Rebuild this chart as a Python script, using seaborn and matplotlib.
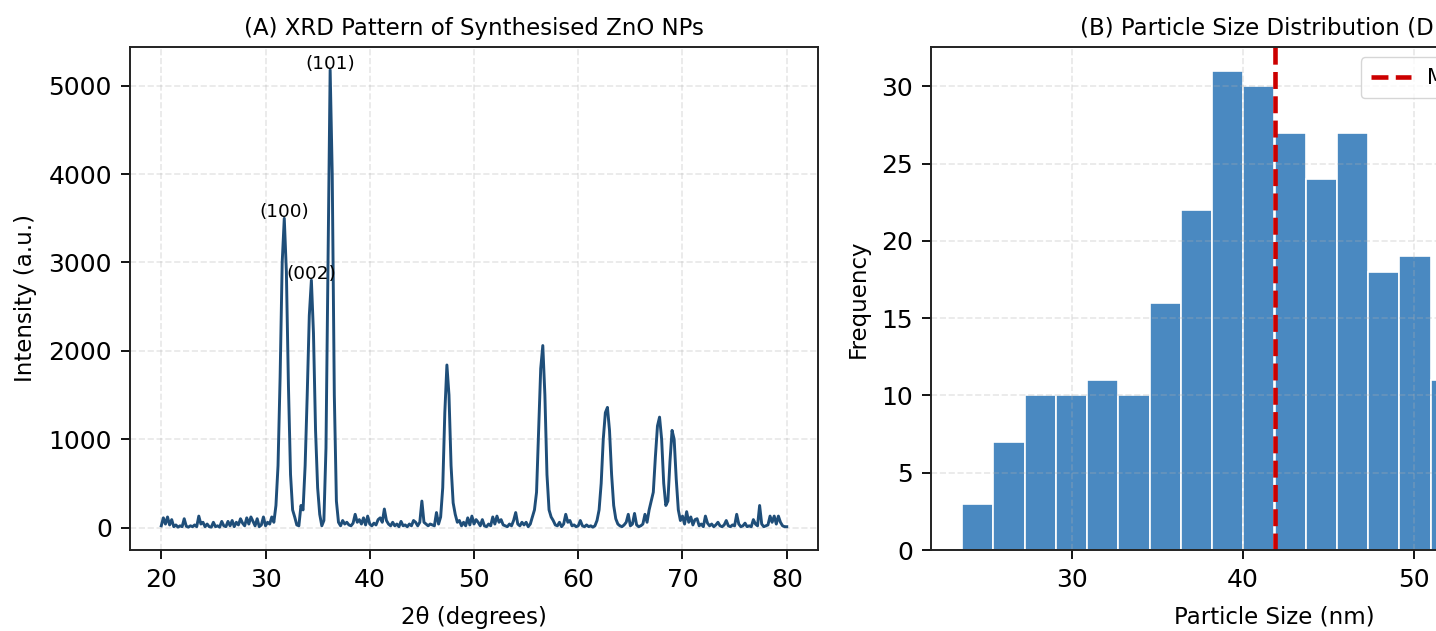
import numpy as np
import pandas as pd
import matplotlib
matplotlib.use('Agg')
import matplotlib.pyplot as plt
from matplotlib.ticker import MultipleLocator
import seaborn as sns

# XRD pattern (2theta in degrees, intensity in a.u.)
two_theta = [
    20.0, 20.2, 20.4, 20.6, 20.8, 21.0, 21.2, 21.4, 21.6, 21.8,
    22.0, 22.2, 22.4, 22.6, 22.8, 23.0, 23.2, 23.4, 23.6, 23.8,
    24.0, 24.2, 24.4, 24.6, 24.8, 25.0, 25.2, 25.4, 25.6, 25.8,
    26.0, 26.2, 26.4, 26.6, 26.8, 27.0, 27.2, 27.4, 27.6, 27.8,
    28.0, 28.2, 28.4, 28.6, 28.8, 29.0, 29.2, 29.4, 29.6, 29.8,
    30.0, 30.2, 30.4, 30.6, 30.8, 31.0, 31.2, 31.4, 31.6, 31.8,
    32.0, 32.2, 32.4, 32.6, 32.8, 33.0, 33.2, 33.4, 33.6, 33.8,
    34.0, 34.2, 34.4, 34.6, 34.8, 35.0, 35.2, 35.4, 35.6, 35.8,
    36.0, 36.2, 36.4, 36.6, 36.8, 37.0, 37.2, 37.4, 37.6, 37.8,
    38.0, 38.2, 38.4, 38.6, 38.8, 39.0, 39.2, 39.4, 39.6, 39.8,
    40.0, 40.2, 40.4, 40.6, 40.8, 41.0, 41.2, 41.4, 41.6, 41.8,
    42.0, 42.2, 42.4, 42.6, 42.8, 43.0, 43.2, 43.4, 43.6, 43.8,
    44.0, 44.2, 44.4, 44.6, 44.8, 45.0, 45.2, 45.4, 45.6, 45.8,
    46.0, 46.2, 46.4, 46.6, 46.8, 47.0, 47.2, 47.4, 47.6, 47.8,
    48.0, 48.2, 48.4, 48.6, 48.8, 49.0, 49.2, 49.4, 49.6, 49.8,
    50.0, 50.2, 50.4, 50.6, 50.8, 51.0, 51.2, 51.4, 51.6, 51.8,
    52.0, 52.2, 52.4, 52.6, 52.8, 53.0, 53.2, 53.4, 53.6, 53.8,
    54.0, 54.2, 54.4, 54.6, 54.8, 55.0, 55.2, 55.4, 55.6, 55.8,
    56.0, 56.2, 56.4, 56.6, 56.8, 57.0, 57.2, 57.4, 57.6, 57.8,
    58.0, 58.2, 58.4, 58.6, 58.8, 59.0, 59.2, 59.4, 59.6, 59.8,
    60.0, 60.2, 60.4, 60.6, 60.8, 61.0, 61.2, 61.4, 61.6, 61.8,
    62.0, 62.2, 62.4, 62.6, 62.8, 63.0, 63.2, 63.4, 63.6, 63.8,
    64.0, 64.2, 64.4, 64.6, 64.8, 65.0, 65.2, 65.4, 65.6, 65.8,
    66.0, 66.2, 66.4, 66.6, 66.8, 67.0, 67.2, 67.4, 67.6, 67.8,
    68.0, 68.2, 68.4, 68.6, 68.8, 69.0, 69.2, 69.4, 69.6, 69.8,
    70.0, 70.2, 70.4, 70.6, 70.8, 71.0, 71.2, 71.4, 71.6, 71.8,
    72.0, 72.2, 72.4, 72.6, 72.8, 73.0, 73.2, 73.4, 73.6, 73.8,
    74.0, 74.2, 74.4, 74.6, 74.8, 75.0, 75.2, 75.4, 75.6, 75.8,
    76.0, 76.2, 76.4, 76.6, 76.8, 77.0, 77.2, 77.4, 77.6, 77.8,
    78.0, 78.2, 78.4, 78.6, 78.8, 79.0, 79.2, 79.4, 79.6, 79.8,
    80.0,
]
intensity = [
    20, 110, 40, 120, 30, 90, 10, 30, 5, 20,
    10, 100, 15, 5, 20, 10, 30, 10, 130, 40,
    60, 10, 40, 10, 5, 60, 10, 20, 5, 70,
    20, 10, 70, 20, 80, 10, 60, 30, 100, 50,
    20, 110, 40, 120, 70, 20, 100, 10, 30, 120,
    20, 60, 40, 120, 60, 250, 700, 1700, 3000, 3500,
    2900, 1600, 600, 200, 120, 30, 20, 250, 200, 700,
    1500, 2400, 2800, 2200, 1100, 450, 150, 20, 80, 900,
    3000, 5180, 4000, 1500, 300, 60, 20, 80, 40, 60,
    30, 20, 50, 150, 60, 90, 40, 110, 30, 130,
    40, 20, 50, 30, 90, 110, 60, 210, 80, 40,
    20, 60, 20, 40, 10, 70, 20, 30, 10, 40,
    20, 80, 60, 20, 60, 300, 60, 40, 20, 40,
    30, 20, 170, 40, 120, 450, 1300, 1840, 1500, 700,
    280, 150, 60, 80, 20, 60, 20, 110, 30, 130,
    40, 90, 60, 20, 90, 20, 10, 40, 20, 120,
    40, 130, 60, 90, 30, 20, 10, 40, 20, 80,
    170, 40, 20, 60, 30, 60, 10, 40, 120, 200,
    400, 1100, 1800, 2060, 1500, 600, 200, 120, 80, 30,
    20, 60, 10, 40, 150, 60, 80, 20, 30, 10,
    20, 80, 20, 10, 30, 10, 20, 5, 20, 80,
    200, 500, 1000, 1300, 1360, 1100, 600, 250, 100, 40,
    20, 10, 30, 60, 150, 20, 40, 160, 30, 10,
    20, 40, 150, 60, 200, 300, 400, 800, 1150, 1250,
    1000, 500, 250, 300, 750, 1100, 1000, 550, 200, 80,
    130, 40, 180, 60, 120, 30, 90, 100, 20, 40,
    10, 130, 50, 20, 40, 10, 30, 60, 20, 10,
    30, 80, 20, 10, 30, 20, 150, 40, 10, 20,
    50, 10, 20, 10, 90, 40, 20, 250, 40, 10,
    20, 30, 130, 60, 130, 40, 130, 60, 20, 10,
    10,
]

# labelled reflections
peak_labels = ['(100)', '(002)', '(101)']
peak_pos = [31.8, 34.4, 36.2]
peak_int = [3500, 2800, 5180]

# particle size histogram (counts per bin, 20 bins)
size_counts = [3, 7, 10, 10, 11, 10, 16, 22, 31, 30,
               27, 24, 27, 18, 19, 11, 10, 7, 4, 3]
size_min, size_max = 23.6, 60.1

edges = np.linspace(size_min, size_max, len(size_counts) + 1)
centers = (edges[:-1] + edges[1:]) / 2
mean_size = np.average(centers, weights=size_counts)

xrd = pd.DataFrame({'two_theta': two_theta, 'intensity': intensity})
sizes = pd.DataFrame({'size': centers, 'count': size_counts})

W, H = 1436, 631
fig = plt.figure(figsize=(W / 100, H / 100), dpi=100)
# the right panel runs past the right edge, as in the reference crop
ax1 = fig.add_axes([130 / W, 81 / H, 688 / W, 503 / H])
ax2 = fig.add_axes([931 / W, 81 / H, 687 / W, 503 / H])

# (A) XRD
sns.lineplot(data=xrd, x='two_theta', y='intensity', ax=ax1,
             color='#1f4e79', linewidth=2.1)
for lab, px, py in zip(peak_labels, peak_pos, peak_int):
    ax1.annotate(lab, (px, py), xytext=(0, -2), textcoords='offset points',
                 ha='center', va='bottom', fontsize=13.3)
ax1.set_title('(A) XRD Pattern of Synthesised ZnO NPs', fontsize=16.5, pad=9)
ax1.set_xlabel('2θ (degrees)', fontsize=16.5, labelpad=10)
ax1.set_ylabel('Intensity (a.u.)', fontsize=16.5, labelpad=8)
ax1.set_xticks([20, 30, 40, 50, 60, 70, 80])

# (B) size distribution
sns.histplot(data=sizes, x='size', weights='count',
             bins=len(size_counts), binrange=(size_min, size_max), ax=ax2,
             color='#4a89c1', alpha=1, edgecolor='white', linewidth=1.2)
ax2.axvline(mean_size, color='#cc0000', linestyle='--', linewidth=3.3,
            label=f'Mean: {mean_size:.2f} nm')
ax2.set_title('(B) Particle Size Distribution (DLS)', fontsize=16.5, pad=9)
ax2.set_xlabel('Particle Size (nm)', fontsize=16.5, labelpad=10)
ax2.set_ylabel('Frequency', fontsize=16.5, labelpad=8)
ax2.xaxis.set_major_locator(MultipleLocator(10))
ax2.legend(loc='upper right', fontsize=15, borderpad=0.5, handlelength=1.9)

for ax in (ax1, ax2):
    ax.grid(True, linestyle='--', linewidth=1.2, alpha=0.3)
    ax.tick_params(labelsize=18, length=6.5, width=1.3, pad=6.5)
    for sp in ax.spines.values():
        sp.set_linewidth(1.4)
        sp.set_color('#222222')

fig.savefig('out.png', dpi=100)
